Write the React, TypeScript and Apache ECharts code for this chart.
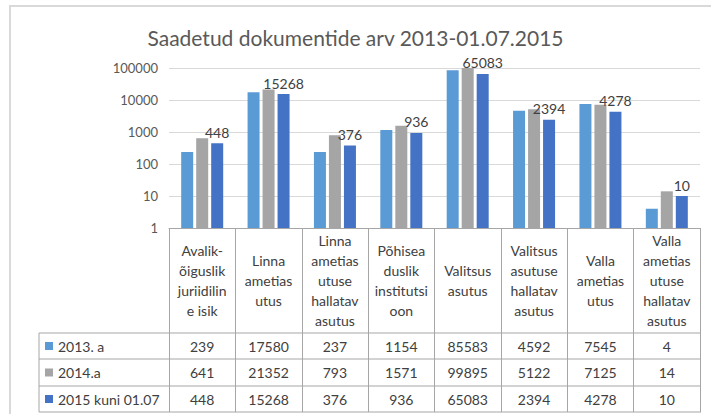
import React, { useEffect, useRef } from "react";
import * as echarts from "echarts";

const titleText = "Saadetud dokumentide arv 2013-01.07.2015";
const categories = [
  "Avalik-\nõiguslik\njuriidilin\ne isik",
  "Linna\nametias\nutus",
  "Linna\nametias\nutuse\nhallatav\nasutus",
  "Põhisea\nduslik\ninstitutsi\noon",
  "Valitsus\nasutus",
  "Valitsus\nasutuse\nhallatav\nasutus",
  "Valla\nametias\nutus",
  "Valla\nametias\nutuse\nhallatav\nasutus",
];
const seriesNames = ["2013. a", "2014.a", "2015 kuni 01.07"];
const values2013 = [239, 17580, 237, 1154, 85583, 4592, 7545, 4];
const values2014 = [641, 21352, 793, 1571, 99895, 5122, 7125, 14];
const values2015 = [448, 15268, 376, 936, 65083, 2394, 4278, 10];
const yMin = 1;
const yMax = 100000;

const colors = ["#5B9BD5", "#A5A5A5", "#4472C4"];
const FONT = "Lato, 'Noto Sans', sans-serif";
const TXT = "#404040";
const LINE = "#A6A6A6";

export default function App() {
  const ref = useRef<HTMLDivElement>(null);
  useEffect(() => {
    if (!ref.current) return;
    const chart = echarts.init(ref.current, null, { renderer: "svg" });
    const allValues = [values2013, values2014, values2015];

    const gridLeft = 169;
    const gridRight = 700;
    const gridBottomY = 228;
    const rowY = [333, 359, 386, 412];
    const tableLeft = 39;

    chart.setOption({
      animation: false,
      title: {
        text: titleText,
        left: "center",
        top: 22,
        textStyle: { color: "#595959", fontSize: 21, fontWeight: "normal", fontFamily: FONT },
      },
      grid: { left: gridLeft, right: 711 - gridRight, top: 68, bottom: 414 - gridBottomY },
      xAxis: {
        type: "category",
        data: categories,
        axisLine: { show: true, lineStyle: { color: LINE } },
        axisTick: { show: true, length: rowY[3] - gridBottomY, lineStyle: { color: LINE }, interval: 0 },
        axisLabel: {
          interval: 0,
          margin: (rowY[0] - gridBottomY) / 2,
          verticalAlign: "middle",
          color: TXT,
          fontSize: 14,
          lineHeight: 20,
          fontFamily: FONT,
          align: "center",
        },
      },
      yAxis: {
        type: "log",
        logBase: 10,
        min: yMin,
        max: yMax,
        interval: 1,
        axisLine: { show: false },
        axisTick: { show: false },
        splitLine: { lineStyle: { color: "#D9D9D9" } },
        axisLabel: {
          color: "#595959",
          fontSize: 13,
          fontFamily: FONT,
          margin: 11,
          formatter: (v: number) => String(Math.round(v)),
        },
      },
      series: allValues.map((vals, i) => ({
        name: seriesNames[i],
        type: "bar",
        data: vals,
        barWidth: 12,
        barGap: "25%",
        itemStyle: { color: colors[i] },
        label:
          i === 2
            ? { show: true, position: "top", distance: 4, color: TXT, fontSize: 14, fontFamily: FONT }
            : { show: false },
      })),
    });

    const graphics: any[] = [
      {
        type: "rect",
        shape: { x: 10, y: 6, width: 760, height: 460 },
        style: { fill: "none", stroke: "#D9D9D9", lineWidth: 2 },
        silent: true,
      },
    ];
    rowY.forEach((y) => {
      graphics.push({
        type: "line",
        shape: { x1: tableLeft, y1: y, x2: gridRight + 1, y2: y },
        style: { stroke: LINE, lineWidth: 1 },
      });
    });
    graphics.push({
      type: "line",
      shape: { x1: tableLeft, y1: rowY[0], x2: tableLeft, y2: rowY[3] },
      style: { stroke: LINE, lineWidth: 1 },
    });
    allValues.forEach((vals, r) => {
      const cy = (rowY[r] + rowY[r + 1]) / 2;
      graphics.push({
        type: "rect",
        shape: { x: 45, y: cy - 4, width: 8, height: 8 },
        style: { fill: colors[r] },
      });
      graphics.push({
        type: "text",
        x: 58,
        y: cy,
        style: {
          text: seriesNames[r],
          fill: TXT,
          font: `14px ${FONT}`,
          verticalAlign: "middle",
          align: "left",
        },
      });
      vals.forEach((v, c) => {
        const px = chart.convertToPixel({ xAxisIndex: 0 }, c) as number;
        graphics.push({
          type: "text",
          x: px,
          y: cy,
          style: {
            text: String(v),
            fill: TXT,
            font: `14px ${FONT}`,
            verticalAlign: "middle",
            align: "center",
          },
        });
      });
    });
    chart.setOption({ graphic: graphics });
    return () => chart.dispose();
  }, []);
  return (
    <div
      ref={ref}
      style={{ position: "fixed", left: 0, top: 0, width: 711, height: 414, background: "#fff" }}
    />
  );
}
